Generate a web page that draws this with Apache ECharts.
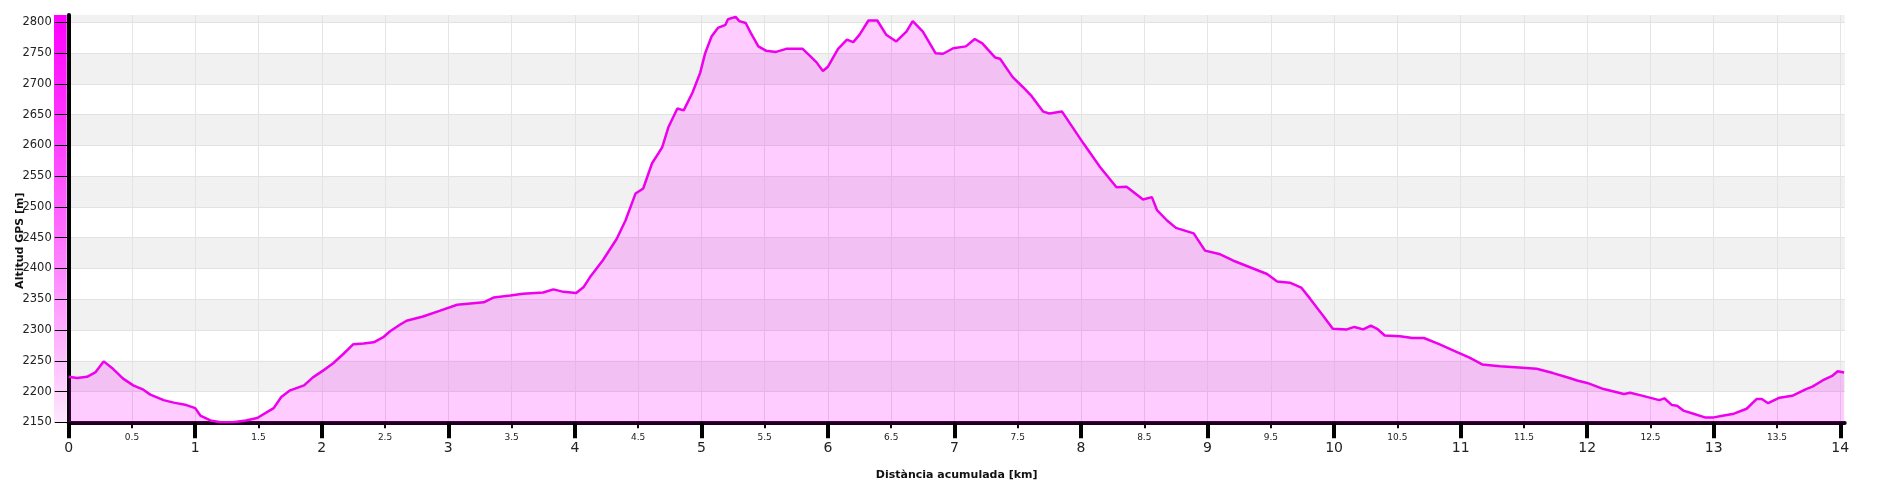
<!DOCTYPE html>
<html>
<head>
<meta charset="utf-8">
<script src="https://cdn.jsdelivr.net/npm/echarts@6/dist/echarts.min.js"></script>
<style>
html,body{margin:0;padding:0;background:#fff;}
#c{width:1877px;height:483px;}
</style>
</head>
<body>
<div id="c"></div>
<script>
// ---- data ----
const distKm = [0,0.066,0.145,0.21,0.276,0.35,0.43,0.51,0.59,0.645,0.75,0.83,0.93,1.0,1.04,1.12,1.2,1.3,1.4,1.49,1.57,1.62,1.68,1.75,1.86,1.93,2.01,2.09,2.17,2.25,2.33,2.41,2.49,2.54,2.62,2.67,2.80,2.93,3.07,3.28,3.36,3.49,3.59,3.75,3.83,3.91,4.01,4.07,4.12,4.22,4.33,4.40,4.48,4.54,4.61,4.66,4.69,4.74,4.81,4.86,4.93,4.99,5.03,5.08,5.13,5.19,5.21,5.27,5.30,5.35,5.39,5.45,5.51,5.59,5.67,5.75,5.80,5.86,5.91,5.96,6.00,6.08,6.15,6.20,6.25,6.32,6.39,6.46,6.54,6.62,6.67,6.75,6.85,6.91,6.99,7.09,7.16,7.22,7.32,7.36,7.46,7.54,7.61,7.70,7.75,7.85,8.02,8.15,8.28,8.36,8.49,8.56,8.60,8.68,8.75,8.89,8.98,9.10,9.20,9.36,9.47,9.55,9.65,9.74,9.81,9.91,9.99,10.10,10.16,10.23,10.29,10.34,10.40,10.52,10.62,10.71,10.83,10.94,11.07,11.17,11.31,11.46,11.60,11.73,11.86,11.92,12.0,12.13,12.29,12.34,12.44,12.57,12.61,12.67,12.71,12.76,12.84,12.93,13.0,13.08,13.16,13.26,13.34,13.38,13.43,13.52,13.62,13.73,13.78,13.86,13.94,13.98,14.03];
const altM = [2224,2222,2224,2231,2249,2237,2221,2210,2203,2195,2186,2182,2178,2173,2161,2153,2150,2150,2153,2157,2167,2173,2191,2202,2210,2223,2234,2246,2261,2277,2278,2280,2289,2298,2309,2315,2322,2331,2341,2345,2353,2356,2359,2361,2366,2362,2360,2370,2386,2413,2448,2478,2522,2530,2571,2587,2597,2630,2660,2657,2686,2718,2750,2777,2791,2796,2805,2809,2802,2799,2783,2761,2754,2752,2757,2757,2757,2745,2735,2721,2728,2757,2772,2768,2780,2803,2803,2780,2769,2785,2802,2785,2750,2749,2758,2761,2773,2766,2743,2741,2711,2695,2680,2655,2652,2655,2603,2565,2532,2533,2512,2516,2495,2478,2466,2457,2429,2423,2413,2400,2391,2379,2377,2369,2351,2324,2302,2301,2305,2301,2307,2302,2291,2290,2287,2287,2277,2267,2255,2244,2241,2239,2237,2230,2222,2218,2214,2204,2196,2198,2193,2186,2189,2178,2177,2169,2164,2158,2158,2161,2164,2172,2188,2188,2181,2190,2193,2204,2208,2218,2226,2233,2231];
const yTicks = [2150,2200,2250,2300,2350,2400,2450,2500,2550,2600,2650,2700,2750,2800];
const xMajorTicks = [0,1,2,3,4,5,6,7,8,9,10,11,12,13,14];
const xMinorTicks = [0,0.5,1,1.5,2,2.5,3,3.5,4,4.5,5,5.5,6,6.5,7,7.5,8,8.5,9,9.5,10,10.5,11,11.5,12,12.5,13,13.5,14];
const xHalfLabels = [0.5,1.5,2.5,3.5,4.5,5.5,6.5,7.5,8.5,9.5,10.5,11.5,12.5,13.5];
const yTitle = 'Altitud GPS [m]';
const xTitle = 'Distància acumulada [km]';
const yMin = 2150, yMax = 2812, xMin = 0, xMax = 14.035;

// ---- chart ----
const G = {left: 68.7, right: 32.3, top: 15, bottom: 60.7};
const chart = echarts.init(document.getElementById('c'), null, {renderer: 'canvas'});
const pts = distKm.map((d, i) => [d, altM[i]]);
const FONT = 'DejaVu Sans';

chart.setOption({
  animation: false,
  backgroundColor: '#ffffff',
  grid: {left: G.left, right: G.right, top: G.top, bottom: G.bottom, containLabel: false,
    outerBoundsMode: 'none',
    show: true, backgroundColor: '#f1f1f1', borderWidth: 0},
  xAxis: [
    {
      type: 'value', position: 'bottom', min: xMin, max: xMax, interval: 0.5,
      axisLine: {show: false, onZero: false},
      axisTick: {show: true, length: 6, lineStyle: {color: '#1a001a', width: 2}, customValues: xMinorTicks},
      axisLabel: {show: true, customValues: xHalfLabels, margin: 11, fontSize: 9, fontFamily: FONT, color: '#222',
        formatter: v => String(v)},
      splitLine: {show: true, lineStyle: {color: '#e4e4e4', width: 1}},
      splitArea: {show: false}
    },
    {
      type: 'value', position: 'bottom', min: xMin, max: xMax, interval: 1,
      name: xTitle, nameLocation: 'middle', nameGap: 47, nameMoveOverlap: false,
      nameTextStyle: {fontFamily: FONT, fontWeight: 'bold', fontSize: 11, color: '#111'},
      axisLine: {show: true, onZero: false, lineStyle: {color: '#1a001a', width: 4}},
      axisTick: {show: true, length: 16, lineStyle: {color: '#000', width: 4}, customValues: xMajorTicks},
      axisLabel: {show: true, customValues: xMajorTicks, margin: 19, fontSize: 14, fontFamily: FONT, color: '#222',
        formatter: v => String(v)},
      splitLine: {show: false}
    }
  ],
  yAxis: {
    type: 'value', min: yMin, max: yMax, interval: 50,
    name: yTitle, nameLocation: 'middle', nameGap: 43, nameMoveOverlap: false,
    nameTextStyle: {fontFamily: FONT, fontWeight: 'bold', fontSize: 11, color: '#111', padding: [0, 44, 0, 0]},
    axisLine: {show: true, onZero: false, lineStyle: {color: '#000', width: 4}},
    axisTick: {show: true, length: 14, lineStyle: {color: '#000', width: 1}, customValues: yTicks},
    axisLabel: {customValues: yTicks, margin: 17, fontSize: 11.5, fontFamily: FONT, color: '#222',
      formatter: v => String(v)},
    splitLine: {show: true, lineStyle: {color: '#e2e2e2', width: 1}},
    splitArea: {show: true, areaStyle: {color: ['#ffffff', '#f1f1f1']}}
  },
  series: [{
    type: 'line', xAxisIndex: 0, data: pts, showSymbol: false, smooth: false,
    lineStyle: {color: '#ee00ee', width: 2.5},
    areaStyle: {color: 'rgba(255,0,255,0.2)', opacity: 1, origin: 'start'},
    z: 3
  }]
});

// altitude colour bar beside the y axis, sized from the axis scales
const yTopPx = chart.convertToPixel({yAxisIndex: 0}, yMax);
const yBotPx = chart.convertToPixel({yAxisIndex: 0}, yMin);
const x0Px = chart.convertToPixel({xAxisIndex: 0}, xMin);
chart.setOption({
  graphic: [{
    type: 'rect', z: 0, silent: true,
    shape: {x: x0Px - 14.7, y: yTopPx, width: 12.7, height: yBotPx - yTopPx},
    style: {fill: new echarts.graphic.LinearGradient(0, 0, 0, 1, [
      {offset: 0, color: '#ff00ff'},
      {offset: 0.5, color: '#ff66ff'},
      {offset: 1, color: '#fde8fd'}
    ])}
  }]
});
</script>
</body>
</html>
